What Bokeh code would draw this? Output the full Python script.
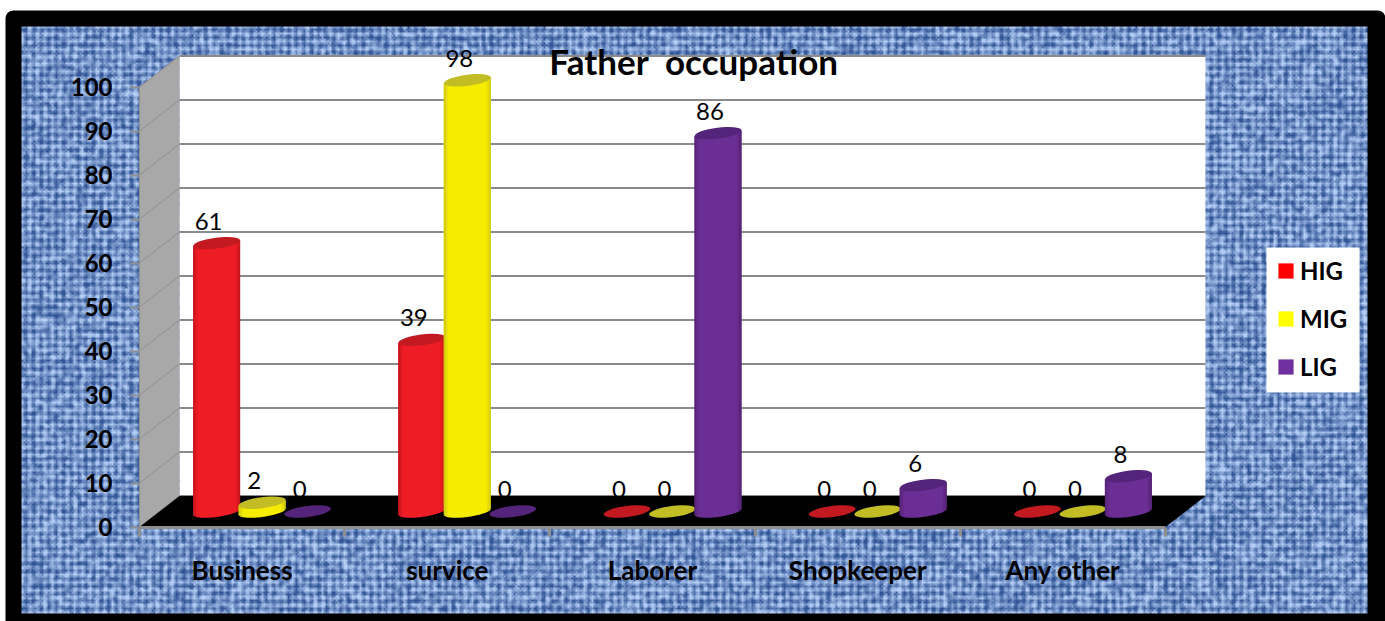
import numpy as np
from bokeh.core.properties import value
from bokeh.embed import file_html
from bokeh.models import FixedTicker, Legend, LegendItem, LinearAxis, Range1d
from bokeh.plotting import figure
from bokeh.resources import INLINE

# ---- data ----
categories = ["Business", "survice", "Laborer", "Shopkeeper", "Any other"]
series_names = ["HIG", "MIG", "LIG"]
hig = [61, 39, 0, 0, 0]
mig = [2, 98, 0, 0, 0]
lig = [0, 0, 86, 6, 8]
y_ticks = [0, 10, 20, 30, 40, 50, 60, 70, 80, 90, 100]
chart_title = "Father \u00a0occupation"

# ---- styles ----
legend_colors = ["#ff0000", "#ffff00", "#7030a0"]
body_colors = ["#ee1c25", "#f5ec00", "#6b2e94"]
edge_colors = ["#b5151d", "#c4bd16", "#50226c"]
top_colors = ["#c31a22", "#c2bd24", "#54247a"]
FONT = "Lato"

# ---- geometry: screen scale of the front plane ----
W, H = 1385, 621
X0_PX, Y0_PX = 139, 526.5        # origin of the axes on the page
CAT_PX, VAL_PX = 205.2, 4.4      # pixels per category, pixels per value unit
DX = 40 / CAT_PX                 # depth of the 3-D box
DY = 31 / VAL_PX
STEP = 45.5 / CAT_PX             # distance between bars of a cluster
RX = 23.5 / CAT_PX               # bar radius
RY = 5.5 / VAL_PX                # height radius of the bar's ellipse
TILT = 3.0 / VAL_PX              # rise of an ellipse from centre to right end


def ux(px):
    return (px - X0_PX) / CAT_PX


def uy(py):
    return (Y0_PX - py) / VAL_PX


def mix(a, b, t):
    ca = [int(a[i:i + 2], 16) for i in (1, 3, 5)]
    cb = [int(b[i:i + 2], 16) for i in (1, 3, 5)]
    return "#%02x%02x%02x" % tuple(int(round(x + (y - x) * t)) for x, y in zip(ca, cb))


p = figure(width=W, height=H, output_backend="svg", toolbar_location=None,
           x_range=Range1d(ux(0), ux(W)), y_range=Range1d(uy(H), uy(0)),
           min_border=0, x_axis_type=None, y_axis_type=None,
           background_fill_color="white", border_fill_color="white",
           outline_line_color=None)
p.grid.visible = False

# ---- black frame with rounded upper corners, and woven backdrop ----
arc = np.linspace(0, np.pi / 2, 8)
R = 8
frame_x = [5] + list(5 + R - R * np.cos(arc)) + [1377] + list(1377 + R * np.sin(arc)) + [1385]
frame_y = [621] + list(10 + R - R * np.sin(arc)) + [10] + list(10 + R - R * np.cos(arc)) + [621]
p.patch([ux(v) for v in frame_x], [uy(v) for v in frame_y], fill_color="black", line_color=None)


def woven(w, h, scale=2.0, period=7.5):
    yy, xx = np.mgrid[0:h, 0:w] * scale
    n = np.sin(np.floor(xx / 2) * 12.9898 + np.floor(yy / 2) * 78.233) * 43758.5453
    n = n - np.floor(n)
    m = (n + np.roll(n, 1, 0) + np.roll(n, 1, 1) + np.roll(n, -1, 0) + np.roll(n, -1, 1)) / 5
    ca = np.cos(2 * np.pi * xx / period)
    cb = np.cos(2 * np.pi * yy / period)
    grid = 0.5 + 0.25 * ca + 0.25 * cb
    b_ = np.clip(0.5 + 1.5 * (m - 0.5) + 1.0 * (grid - 0.5), 0, 1)
    dark = np.array([48, 84, 150])
    light = np.array([180, 206, 245])
    rgb = dark[None, None, :] + b_[..., None] * (light - dark)[None, None, :]
    out = np.zeros((h, w), dtype=np.uint32)
    view = out.view(np.uint8).reshape(h, w, 4)
    view[..., :3] = rgb.astype(np.uint8)
    view[..., 3] = 255
    return out


TX0, TX1, TY0, TY1 = 21, 1367, 26, 613
tex = woven((TX1 - TX0) // 2, (TY1 - TY0) // 2)
p.image_rgba(image=[tex], x=ux(TX0), y=uy(TY1), dw=ux(TX1) - ux(TX0), dh=uy(TY0) - uy(TY1))

# ---- 3-D box ----
n = len(categories)
top_v = y_ticks[-1]
p.quad(left=DX, right=n + DX, bottom=DY, top=top_v + DY, fill_color="white", line_color=None)
p.patch([0, DX, DX, 0], [0, DY, top_v + DY, top_v], fill_color="#a8a8a8", line_color=None)
p.segment(x0=[DX] * len(y_ticks), x1=[n + DX] * len(y_ticks),
          y0=[v + DY for v in y_ticks], y1=[v + DY for v in y_ticks],
          line_color="#8a8a8a", line_width=2)
p.segment(x0=[0] * len(y_ticks), x1=[DX] * len(y_ticks),
          y0=y_ticks, y1=[v + DY for v in y_ticks], line_color="#8f8f8f", line_width=1)

series = [hig, mig, lig]


def centre(i, s):
    return i + 0.5 + (s - 1) * STEP + DX / 2


def labels(select):
    xs, ys, txt = [], [], []
    for s, vals in enumerate(series):
        for i, v in enumerate(vals):
            if select(v):
                xs.append(centre(i, s))
                ys.append(v + DY / 2)
                txt.append(str(v))
    p.text(xs, ys, text=txt, text_font=value(FONT), text_font_size="24px", text_color="black",
           text_align="center", text_baseline="middle", x_offset=-8, y_offset=-22)


# zero labels sit behind the floor, which hides their lower half
labels(lambda v: v == 0)
p.patch([0, n, n + DX, DX], [0, 0, DY, DY], fill_color="black", line_color=None)

# ---- cylinders ----
SIDE = 7
EDGE = 0.2
for s, vals in enumerate(series):
    for i, v in enumerate(vals):
        cx = centre(i, s)
        base = DY / 2
        if v > 0:
            t = np.linspace(-1, 1, 41)
            low = base + t * TILT - RY * np.sqrt(1 - t * t)
            body_x = np.concatenate([cx + t * RX, [cx + RX, cx - RX]])
            body_y = np.concatenate([low, [base + v + TILT, base + v - TILT]])
            p.patch(body_x, body_y, fill_color=body_colors[s], line_color=None)
            for sign in (-1, 1):
                edges = np.linspace(1 - EDGE, 1, SIDE + 1)
                mids = (edges[:-1] + edges[1:]) / 2
                k = (1 - mids) / EDGE
                cols = [mix(edge_colors[s], body_colors[s], q) for q in k]
                lefts = cx + sign * edges[:-1] * RX
                rights = cx + sign * edges[1:] * RX
                p.quad(left=np.minimum(lefts, rights), right=np.maximum(lefts, rights),
                       bottom=base + sign * mids * TILT - RY * np.sqrt(1 - mids * mids),
                       top=base + v + sign * mids * TILT,
                       fill_color=cols, line_color=None)
        # the angle is measured on the screen
        p.ellipse(x=[cx], y=[base + v], width=[2 * RX], height=[2 * RY], angle=[np.arctan(3.0 / 23.5)],
                  fill_color=top_colors[s], line_color=None)

labels(lambda v: v > 0)

# ---- title ----
p.text([(ux(551) + ux(836)) / 2], [uy(60)], text=[chart_title], text_font=value(FONT), text_font_style="bold",
       text_font_size="35px", text_color="black", text_align="center", text_baseline="middle")

# ---- real axes, pinned to the front plane ----
yax = LinearAxis(ticker=FixedTicker(ticks=y_ticks), fixed_location=0, bounds=(0, top_v),
                 axis_line_color="#8f8f8f", axis_line_width=1,
                 major_tick_line_color="#8f8f8f", major_tick_line_width=2,
                 major_tick_in=0, major_tick_out=9, minor_tick_out=0, minor_tick_in=0,
                 major_label_standoff=18, major_label_text_font=FONT,
                 major_label_text_font_style="bold", major_label_text_font_size="24px",
                 major_label_text_color="black")
p.add_layout(yax, "left")

xax = LinearAxis(ticker=FixedTicker(ticks=[i + 0.5 for i in range(n)], minor_ticks=list(range(n + 1))),
                 fixed_location=0, bounds=(0, n),
                 major_label_overrides={i + 0.5: c for i, c in enumerate(categories)},
                 axis_line_color="#8f8f8f", axis_line_width=3,
                 major_tick_in=0, major_tick_out=0,
                 minor_tick_line_color="#8f8f8f", minor_tick_line_width=3,
                 minor_tick_in=0, minor_tick_out=9,
                 major_label_standoff=18, major_label_text_font=FONT,
                 major_label_text_font_style="bold", major_label_text_font_size="26px",
                 major_label_text_color="black")
p.add_layout(xax, "below")

# ---- legend: white panel, then transparent legend on top ----
p.quad(left=ux(1266), right=ux(1359), bottom=uy(392), top=uy(247), fill_color="white", line_color=None)
swatches = [p.quad(left=[np.nan], right=[np.nan], bottom=[np.nan], top=[np.nan],
                   fill_color=c, line_color=None) for c in legend_colors]
legend = Legend(items=[LegendItem(label=value(nm), renderers=[r]) for nm, r in zip(series_names, swatches)],
                location=(1276, H - 381), orientation="vertical",
                glyph_width=19, glyph_height=19, label_standoff=5,
                spacing=19, padding=0, margin=0,
                label_text_font=FONT, label_text_font_style="bold", label_text_font_size="24px",
                label_text_color="black", background_fill_alpha=0, border_line_color=None)
p.add_layout(legend, "center")

open("out.html", "w").write(file_html(p, INLINE))
